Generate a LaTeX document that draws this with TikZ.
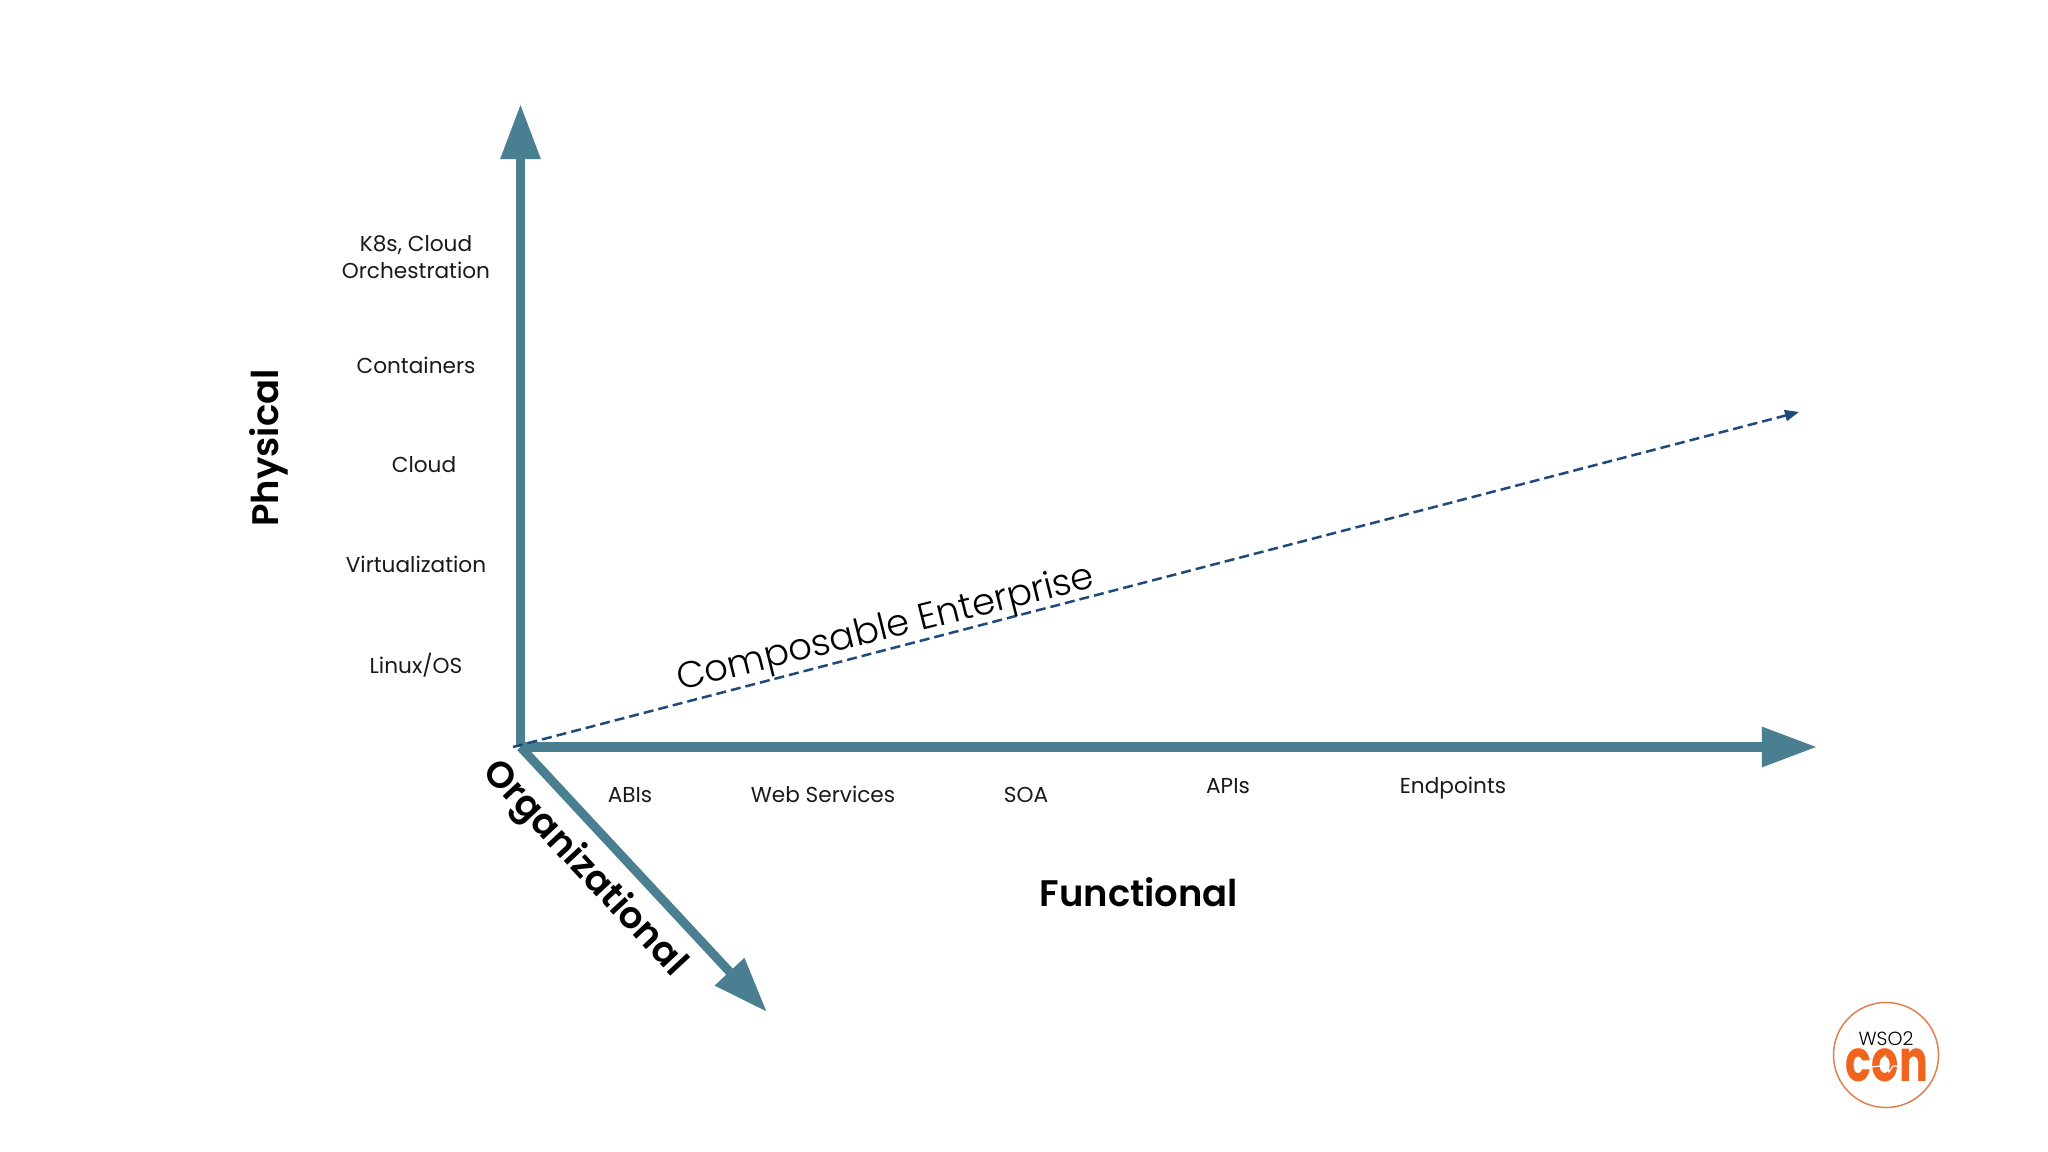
\documentclass[tikz,border=0pt]{standalone}
\usepackage{fontspec}
\setmainfont{Poppins}
\newfontfamily\thinfont{Poppins Light}
\newfontfamily\axisfont{Poppins SemiBold}
\usetikzlibrary{arrows.meta,positioning}
\definecolor{axisteal}{HTML}{4A7F91}
\definecolor{dashblue}{HTML}{1F4A7C}
\definecolor{logoorange}{HTML}{F0641E}
\definecolor{logoring}{HTML}{E08050}
\tikzset{
  axisline/.style={draw=axisteal, line width=0.09cm, -{Triangle[length=0.55cm,width=0.38cm]}},
  tierlabel/.style={font=\fontsize{6.15}{7.7}\selectfont, text=black!90, align=center, inner sep=0pt},
  axislabel/.style={font=\fontsize{10.5}{12}\axisfont, text=black, inner sep=0pt},
}
\begin{document}
\begin{tikzpicture}[x=0.01cm,y=-0.01cm]
\useasboundingbox (0,0) rectangle (2048,1152);
\coordinate (orig) at (520.5,747);
\coordinate (phystip) at (520.5,104);
\coordinate (functip) at (1817,747);
\coordinate (orgtip) at (767,1012);
\coordinate (dashstart) at (513,747);
\coordinate (dashtip) at (1799,412);

\draw[axisline] (orig) -- (phystip);
\draw[axisline] (orig) -- (functip);
\draw[axisline] (orig) -- (orgtip);
\draw[draw=dashblue, line width=0.025cm, dash pattern=on 0.1cm off 0.05cm, -{Triangle[length=0.14cm,width=0.11cm]}] (dashstart) -- (dashtip);

\node[tierlabel] (k8s) at (416,257) {K8s, Cloud\\Orchestration};
\node[tierlabel] (containers) at (416,365) {Containers};
\node[tierlabel] (cloud) at (424,465) {Cloud};
\node[tierlabel] (virt) at (416,564) {Virtualization};
\node[tierlabel] (linux) at (416,665) {Linux/OS};

\node[tierlabel] (abis) at (630,795) {ABIs};
\node[tierlabel] (websvc) at (823,794) {Web Services};
\node[tierlabel] (soa) at (1026,795) {SOA};
\node[tierlabel] (apis) at (1228,786) {APIs};
\node[tierlabel] (endpoints) at (1453,788) {Endpoints};

\node[axislabel] (physical) at (269,448) [rotate=90] {Physical};
\node[axislabel] (functional) at (1139,892) {Functional};
\node[axislabel] (organizational) at (584,869) [rotate=-47] {Organizational};
\node[font=\fontsize{10.5}{12}\thinfont, inner sep=0pt, rotate=14] (composable) at (886,630) {Composable Enterprise};

\node[circle, draw=logoring, line width=0.015cm, minimum size=1.05cm, inner sep=0pt] (logo) at (1886,1055) {};
\node[font=\fontsize{5.4}{6}\thinfont, inner sep=0pt] (wso) at (1886,1039) {WSO2};
\node[font=\fontsize{16.5}{18}\selectfont\bfseries, text=logoorange, inner sep=0pt, xscale=0.74] (con) at (1887,1065) {con};
\draw[white, line width=0.012cm] (1872,1067) -- (1880,1066) -- (1885,1056) -- (1889,1072) -- (1893,1066) -- (1900,1066);
\end{tikzpicture}
\end{document}
